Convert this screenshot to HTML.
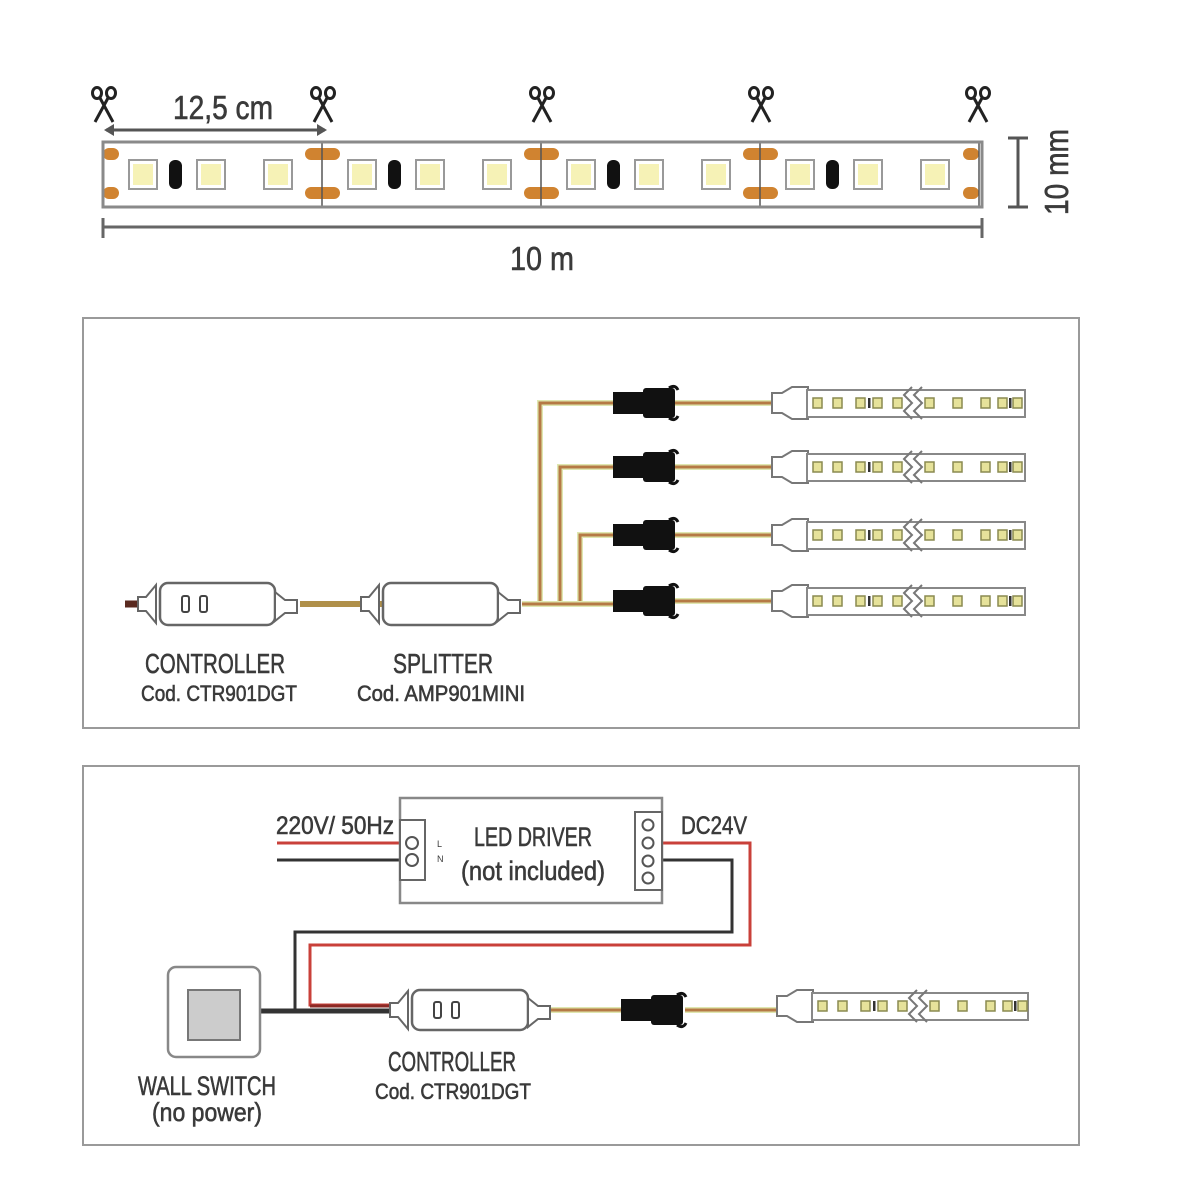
<!DOCTYPE html>
<html><head><meta charset="utf-8"><style>
html,body{margin:0;padding:0;background:#fff;}
svg{display:block}
text{font-family:"Liberation Sans",sans-serif;fill:#3a3a3a;stroke:#3a3a3a;stroke-width:0.6;}
</style></head><body>
<svg id="s" width="1200" height="1200" viewBox="0 0 1200 1200" xmlns="http://www.w3.org/2000/svg">
<rect width="1200" height="1200" fill="#fff"/>
<g id="topg"></g>
<rect x="103" y="142" width="879" height="65" fill="none" stroke="#8a8a8a" stroke-width="3"/>
<line x1="106" y1="130" x2="325" y2="130" stroke="#555" stroke-width="3"/>
<path d="M104 130 l10 -6 v12 z M327 130 l-10 -6 v12 z" fill="#555"/>
<text x="223" y="119" font-size="33" text-anchor="middle" textLength="100" lengthAdjust="spacingAndGlyphs">12,5 cm</text>
<line x1="103" y1="227" x2="982" y2="227" stroke="#666" stroke-width="3"/>
<line x1="103" y1="218" x2="103" y2="238" stroke="#666" stroke-width="3"/>
<line x1="982" y1="218" x2="982" y2="238" stroke="#666" stroke-width="3"/>
<text x="542" y="270" font-size="33" text-anchor="middle" textLength="64" lengthAdjust="spacingAndGlyphs">10 m</text>
<line x1="1018" y1="138" x2="1018" y2="207" stroke="#555" stroke-width="3"/>
<line x1="1008" y1="138" x2="1028" y2="138" stroke="#555" stroke-width="3"/>
<line x1="1008" y1="207" x2="1028" y2="207" stroke="#555" stroke-width="3"/>
<text transform="translate(1068,172) rotate(-90)" font-size="33" text-anchor="middle" textLength="86" lengthAdjust="spacingAndGlyphs">10 mm</text>

<rect x="83" y="318" width="996" height="410" fill="none" stroke="#9a9a9a" stroke-width="2"/>
<g id="b2"></g>
<text x="215" y="673" font-size="28" text-anchor="middle" textLength="140" lengthAdjust="spacingAndGlyphs">CONTROLLER</text>
<text x="219" y="701" font-size="22" text-anchor="middle" textLength="156" lengthAdjust="spacingAndGlyphs">Cod. CTR901DGT</text>
<text x="443" y="673" font-size="28" text-anchor="middle" textLength="100" lengthAdjust="spacingAndGlyphs">SPLITTER</text>
<text x="441" y="701" font-size="22" text-anchor="middle" textLength="168" lengthAdjust="spacingAndGlyphs">Cod. AMP901MINI</text>

<rect x="83" y="766" width="996" height="379" fill="none" stroke="#9a9a9a" stroke-width="2"/>
<polyline points="662,843 750,843 750,945 310,945 310,1005 390,1005" fill="none" stroke="#c9403a" stroke-width="3"/>
<polyline points="662,860 732,860 732,932 295,932 295,1010" fill="none" stroke="#333" stroke-width="3"/>
<line x1="277" y1="843" x2="400" y2="843" stroke="#c9403a" stroke-width="3"/>
<line x1="277" y1="860" x2="400" y2="860" stroke="#333" stroke-width="3"/>
<line x1="260" y1="1011" x2="392" y2="1011" stroke="#333" stroke-width="5"/>
<line x1="310" y1="1006" x2="392" y2="1006" stroke="#8b2a25" stroke-width="3"/>
<rect x="400" y="798" width="262" height="105" fill="#fff" stroke="#888" stroke-width="2.5"/>
<rect x="400" y="820" width="25" height="60" fill="#fff" stroke="#666" stroke-width="2"/>
<circle cx="412" cy="843" r="6" fill="#fff" stroke="#555" stroke-width="2"/>
<circle cx="412" cy="860" r="6" fill="#fff" stroke="#555" stroke-width="2"/>
<text x="437" y="847" font-size="9" style="stroke:none">L</text><text x="437" y="862" font-size="9" style="stroke:none">N</text>
<rect x="635" y="812" width="27" height="78" fill="#fff" stroke="#666" stroke-width="2"/>
<circle cx="648" cy="825" r="5.5" fill="#fff" stroke="#555" stroke-width="2"/>
<circle cx="648" cy="843" r="5.5" fill="#fff" stroke="#555" stroke-width="2"/>
<circle cx="648" cy="861" r="5.5" fill="#fff" stroke="#555" stroke-width="2"/>
<circle cx="648" cy="878" r="5.5" fill="#fff" stroke="#555" stroke-width="2"/>
<text x="533" y="846" font-size="27" text-anchor="middle" textLength="118" lengthAdjust="spacingAndGlyphs">LED DRIVER</text>
<text x="533" y="880" font-size="27" text-anchor="middle" textLength="144" lengthAdjust="spacingAndGlyphs">(not included)</text>
<text x="335" y="834" font-size="25" text-anchor="middle" textLength="118" lengthAdjust="spacingAndGlyphs">220V/ 50Hz</text>
<text x="714" y="834" font-size="25" text-anchor="middle" textLength="66" lengthAdjust="spacingAndGlyphs">DC24V</text>
<rect x="168" y="967" width="92" height="90" rx="8" fill="#fff" stroke="#888" stroke-width="2.5"/>
<rect x="188" y="990" width="52" height="50" fill="#ccc" stroke="#777" stroke-width="2"/>
<g id="b3"></g>
<text x="207" y="1095" font-size="27" text-anchor="middle" textLength="138" lengthAdjust="spacingAndGlyphs">WALL SWITCH</text>
<text x="207" y="1121" font-size="26" text-anchor="middle" textLength="110" lengthAdjust="spacingAndGlyphs">(no power)</text>
<text x="452" y="1071" font-size="28" text-anchor="middle" textLength="128" lengthAdjust="spacingAndGlyphs">CONTROLLER</text>
<text x="453" y="1099" font-size="22" text-anchor="middle" textLength="156" lengthAdjust="spacingAndGlyphs">Cod. CTR901DGT</text>
</svg>
<script>
(function(){
var NS="http://www.w3.org/2000/svg";
function el(parent,tag,attrs){var e=document.createElementNS(NS,tag);for(var k in attrs)e.setAttribute(k,attrs[k]);parent.appendChild(e);return e;}
var T=document.getElementById('topg');
var cuts=[103,322,541,760,979];
for(var i=0;i<4;i++){var x0=cuts[i];
 [40,108,175].forEach(function(o){var cx=x0+o;el(T,'rect',{x:cx-14,y:160,width:28,height:29,fill:'#fff',stroke:'#999','stroke-width':2});el(T,'rect',{x:cx-10,y:164,width:20,height:21,fill:'#f6f2b6'});});
 el(T,'rect',{x:x0+66,y:160,width:13,height:29,rx:6,fill:'#111'});
}
cuts.forEach(function(x,i){
 var w=(i==0||i==4)?16:35; var xx=(i==0)?x:(i==4?x-16:x-17);
 [148,187].forEach(function(y){el(T,'rect',{x:xx,y:y,width:w,height:12,rx:6,fill:'#d08330'});});
 el(T,'line',{x1:x,y1:142,x2:x,y2:207,stroke:'#555','stroke-width':1.5});
 var g=el(T,'g',{stroke:'#222','stroke-width':3,fill:'none'});
 var c=(i==0)?104:(i==1?323:(i==4?978:x+1));
 el(g,'ellipse',{cx:c-7,cy:93,rx:4.5,ry:5.5});
 el(g,'ellipse',{cx:c+7,cy:93,rx:4.5,ry:5.5});
 el(g,'line',{x1:c-4,y1:98,x2:c+9,y2:122});
 el(g,'line',{x1:c+4,y1:98,x2:c-9,y2:122});
});
function body(g,x,y,w,h,dots){
 el(g,'path',{d:'M'+(x-22)+' '+(y-7)+' h8 l10 -12 v38 l-10 -12 h-8 z',fill:'#fff',stroke:'#666','stroke-width':2});
 el(g,'rect',{x:x,y:y-h/2,width:w,height:h,rx:8,fill:'#fff',stroke:'#666','stroke-width':2.5});
 el(g,'path',{d:'M'+(x+w)+' '+(y-12)+' l10 8 h12 v13 h-12 l-10 8 z',fill:'#fff',stroke:'#666','stroke-width':2});
 if(dots){el(g,'rect',{x:x+22,y:y-8,width:7,height:16,rx:2,fill:'none',stroke:'#444','stroke-width':2});el(g,'rect',{x:x+40,y:y-8,width:7,height:16,rx:2,fill:'none',stroke:'#444','stroke-width':2});}
}
function conn(g,x,y){
 el(g,'rect',{x:x,y:y-11,width:34,height:22,fill:'#111'});
 el(g,'rect',{x:x+30,y:y-15,width:32,height:30,rx:3,fill:'#111'});
 el(g,'path',{d:'M'+(x+56)+' '+(y-15)+' q6 -4 9 2 M'+(x+56)+' '+(y+15)+' q6 4 9 -2',stroke:'#111','stroke-width':3,fill:'none'});
}
function strip(g,x,y,w){
 el(g,'path',{d:'M'+x+' '+(y-10)+' h10 l10 -6 h16 v32 h-16 l-10 -6 h-10 z',fill:'#fff',stroke:'#777','stroke-width':2});
 el(g,'rect',{x:x+35,y:y-13,width:w-35,height:27,fill:'#fff',stroke:'#888','stroke-width':2});
 var offs=[45,65,88,96,105,125,157,185,213,230,237,245];
 offs.forEach(function(o,k){ if(k==3||k==10){el(g,'rect',{x:x+o,y:y-5,width:2.5,height:10,fill:'#333'});return;}
  el(g,'rect',{x:x+o-4,y:y-5,width:9,height:10,fill:'#e6e29a',stroke:'#8a8a50','stroke-width':1.5});});
 el(g,'path',{d:'M'+(x+140)+' '+(y-16)+' l-8 8 l8 8 l-8 8 l8 8 M'+(x+150)+' '+(y-16)+' l-8 8 l8 8 l-8 8 l8 8',fill:'none',stroke:'#777','stroke-width':2});
}
function wire(g,pts){el(g,'polyline',{points:pts,fill:'none',stroke:'#dfe7b0','stroke-width':6});el(g,'polyline',{points:pts,fill:'none',stroke:'#b57a45','stroke-width':3});}
var b2=document.getElementById('b2');
el(b2,'line',{x1:125,y1:604,x2:145,y2:604,stroke:'#5a2a20','stroke-width':7});
el(b2,'line',{x1:300,y1:604,x2:385,y2:604,stroke:'#b0904a','stroke-width':6});
var rows=[403,467,535,601], vx=[540,560,580,600];
rows.forEach(function(y,i){
 if(i<3) wire(b2,vx[i]+',604 '+vx[i]+','+y+' 615,'+y); else wire(b2,'522,604 615,604');
 wire(b2,'675,'+y+' 772,'+y);
 conn(b2,613,y); strip(b2,772,y,253);
});
body(b2,160,604,115,42,true);
body(b2,383,604,115,42,false);
var b3=document.getElementById('b3');
wire(b3,'530,1010 625,1010'); wire(b3,'685,1010 777,1010');
conn(b3,621,1010); strip(b3,777,1006,251);
body(b3,412,1010,116,40,true);
})();
</script>
</body></html>
